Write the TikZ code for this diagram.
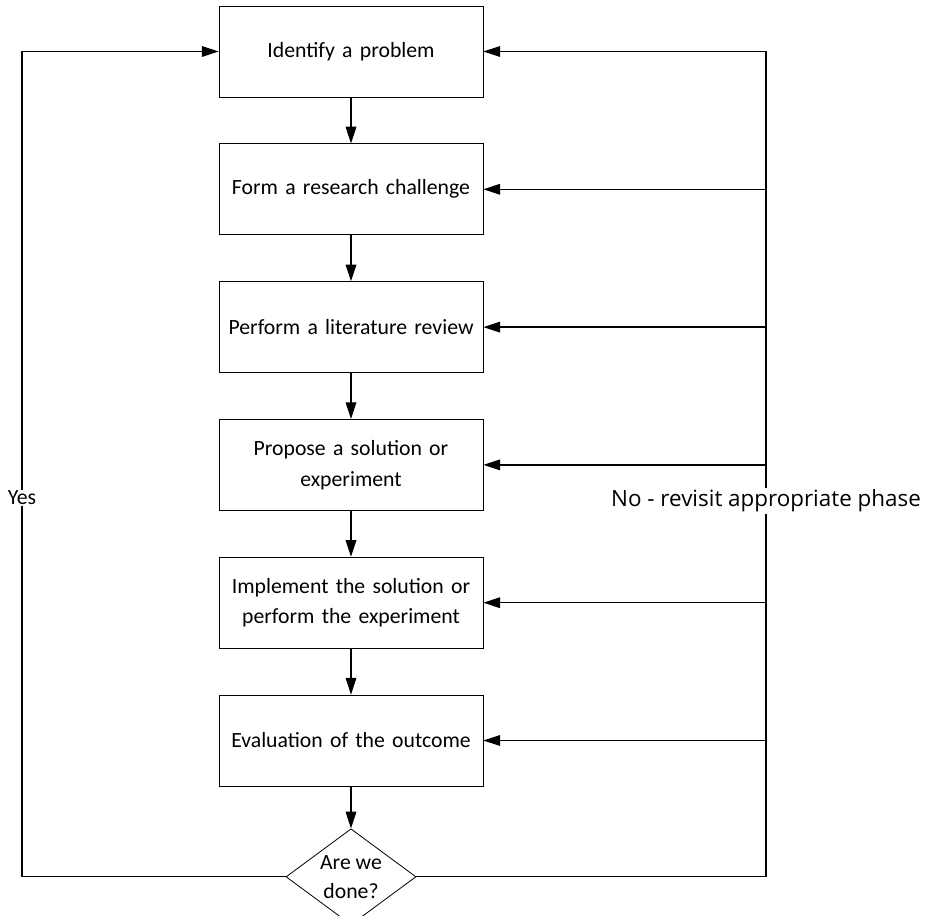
\documentclass[tikz,border=0pt]{standalone}
\usepackage{fontspec}
\setmainfont{Carlito}
\newfontfamily\labelfont{Open Sans}
\usetikzlibrary{positioning, shapes.geometric, arrows.meta}

\tikzset{
  phase/.style={draw, line width=0.6pt, minimum width=198pt, minimum height=68.25pt,
    text width=194pt, align=center, inner sep=2pt, font=\fontsize{16.3}{23}\selectfont},
  check/.style={draw, diamond, aspect=1.35, line width=0.6pt, minimum width=97.5pt,
    minimum height=72pt, inner sep=0pt, align=center, font=\fontsize{16.3}{22}\selectfont},
  flow/.style={line width=0.9pt, -{Triangle[length=12.5pt,width=8pt]}},
  tag/.style={fill=white, inner sep=1pt, font=\fontsize{16.3}{18}\selectfont},
}

\begin{document}
\begin{tikzpicture}[x=0.75pt, y=-0.75pt]
  \useasboundingbox (0,0) rectangle (936,916);

  % fasi
  \node[phase] (b1) at (351,51.5) {Identify a problem};
  \node[phase, below=34.5pt of b1] (b2) {Form a research challenge};
  \node[phase, below=34.5pt of b2] (b3) {Perform a literature review};
  \node[phase, below=34.5pt of b3] (b4) {Propose a solution or\\experiment};
  \node[phase, below=34.5pt of b4] (b5) {Implement the solution or\\perform the experiment};
  \node[phase, below=34.5pt of b5] (b6) {Evaluation of the outcome};
  \node[check, below=31.5pt of b6] (ok) {Are we\\done?};

  % frecce in giu
  \foreach \a/\b in {b1/b2, b2/b3, b3/b4, b4/b5, b5/b6, b6/ok}
    \draw[flow] (\a) -- (\b);

  % ritorni
  \coordinate (lrail) at (22,868);
  \coordinate (rail) at (766,868);
  \draw[flow] (ok.west) -- (lrail |- ok.west) |- (b1.west);
  \draw[flow] (ok.east) -- (rail |- ok.east) |- (b1.east);
  \foreach \b in {b2, b3, b4, b5, b6}
    \draw[flow] (rail |- \b.east) -- (\b.east);

  % etichette
  \node[tag] (yes) at (22,498) {Yes};
  \node[tag, font=\labelfont\fontsize{16.8}{18}\selectfont] (no) at (766,501) {No - revisit appropriate phase};
\end{tikzpicture}
\end{document}
